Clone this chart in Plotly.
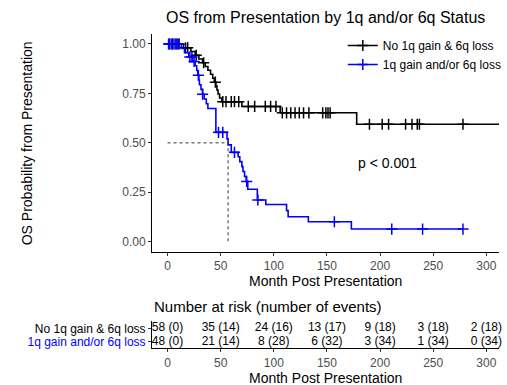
import numpy as np
import plotly.graph_objects as go

# ---------------- data ----------------
group_names = ["No 1q gain & 6q loss", "1q gain and/or 6q loss"]
group_colors = ["#000000", "#0000ff"]

# Kaplan-Meier step points (time, survival)
black_t = [0, 15, 22, 26, 29.5, 33, 35.5, 38, 40.5, 42.5, 44, 45.5, 46.5, 47.5, 49,
           51, 70, 106, 178, 312]
black_s = [1.0, 0.981, 0.962, 0.943, 0.924, 0.905, 0.886, 0.867, 0.847, 0.827, 0.807,
           0.787, 0.767, 0.747, 0.727, 0.708, 0.684, 0.652, 0.594, 0.594]
black_censor = [2, 5, 8, 10, 17, 19, 27, 34, 45, 52, 55, 60, 63, 67, 76, 82, 92, 97,
                102, 108, 112, 116, 120, 124, 128, 133, 146, 149, 151, 153, 190, 202,
                208, 224, 230, 235, 237, 278]

blue_t = [0, 13, 16, 20, 23.5, 26, 27.5, 28.5, 29.5, 30, 31.5, 33, 34.5, 36.5, 38,
          45.5, 56, 57, 60, 66.5, 68, 70, 71, 72.5, 74, 75.5, 84.5, 92.5, 112, 113.5,
          132.5, 173, 278]
blue_s = [1.0, 0.978, 0.956, 0.934, 0.912, 0.89, 0.866, 0.842, 0.818, 0.794, 0.77,
          0.746, 0.722, 0.698, 0.674, 0.553, 0.52, 0.49, 0.452, 0.43, 0.405, 0.38,
          0.355, 0.33, 0.305, 0.265, 0.211, 0.188, 0.157, 0.126, 0.101, 0.064, 0.064]
blue_censor = [1, 2, 4, 5, 7, 9, 11, 21, 23, 25, 29, 33, 48, 52, 63, 74.5, 85, 157,
               211, 240, 278]

p_text = "p < 0.001"

risk_times = [0, 50, 100, 150, 200, 250, 300]
black_risk = ["58 (0)", "35 (14)", "24 (16)", "13 (17)", "9 (18)", "3 (18)", "2 (18)"]
blue_risk = ["48 (0)", "21 (14)", "8 (28)", "6 (32)", "3 (34)", "1 (34)", "0 (34)"]

x_ticks = [0, 50, 100, 150, 200, 250, 300]
y_ticks = [0, 0.25, 0.5, 0.75, 1.0]
y_ticktext = ["0.00", "0.25", "0.50", "0.75", "1.00"]

title_text = "OS from Presentation by 1q and/or 6q Status"
x_title = "Month Post Presentation"
y_title = "OS Probability from Presentation"
table_title = "Number at risk (number of events)"

# ---------------- figure ----------------
W, H = 507, 385
FONT = "Liberation Sans, Arial, sans-serif"
L, R = 152, 4


def py(p):
    return (H - p) / H


def step_value(ts, ss, t):
    i = np.searchsorted(np.asarray(ts), t, side="right") - 1
    return ss[max(i, 0)]


fig = go.Figure()

curves = [(black_t, black_s, black_censor), (blue_t, blue_s, blue_censor)]
for (ts, ss, cs), name, col in zip(curves, group_names, group_colors):
    fig.add_trace(go.Scatter(x=ts, y=ss, mode="lines", line=dict(color=col, width=1.6, shape="hv"),
                             showlegend=False, hoverinfo="skip"))
    cy = [step_value(ts, ss, c) for c in cs]
    fig.add_trace(go.Scatter(x=cs, y=cy, mode="markers",
                             marker=dict(symbol="cross-thin", size=8, line=dict(color=col, width=1.5)),
                             showlegend=False, hoverinfo="skip"))
    fig.add_trace(go.Scatter(x=[None], y=[None], mode="lines+markers", name=name,
                             line=dict(color=col, width=1.6),
                             marker=dict(symbol="cross-thin", size=8, line=dict(color=col, width=1.5))))

# median survival line for the group that reaches 0.5
bt = np.asarray(blue_t)
bs = np.asarray(blue_s)
med = float(bt[np.argmax(bs <= 0.5)])
fig.add_trace(go.Scatter(x=[0, med, med], y=[0.5, 0.5, 0], mode="lines",
                         line=dict(color="#333333", width=1, dash="3px,3px"),
                         showlegend=False, hoverinfo="skip"))

# risk table
fig.add_trace(go.Scatter(x=risk_times, y=[2] * len(risk_times), text=black_risk, mode="text",
                         textfont=dict(size=12, color="#000000", family=FONT),
                         xaxis="x2", yaxis="y2", showlegend=False, hoverinfo="skip",
                         cliponaxis=False))
fig.add_trace(go.Scatter(x=risk_times, y=[1] * len(risk_times), text=blue_risk, mode="text",
                         textfont=dict(size=12, color="#000000", family=FONT),
                         xaxis="x2", yaxis="y2", showlegend=False, hoverinfo="skip",
                         cliponaxis=False))

xr = [-14.6, 311.9]
axis_common = dict(showgrid=False, zeroline=False, showline=True, linecolor="#000000",
                   linewidth=1, ticks="outside", ticklen=3, tickcolor="#333333",
                   tickfont=dict(size=12, color="#4d4d4d", family=FONT), automargin=False)

main_bottom, main_top = 251.6, 34.1
tab_bottom, tab_top = 348.3, 320.5

fig.update_layout(
    width=W, height=H, margin=dict(l=L, r=R, t=0, b=0),
    template="none", paper_bgcolor="white", plot_bgcolor="white",
    font=dict(family=FONT, color="#000000"),
    xaxis=dict(domain=[0, 1], range=xr, tickvals=x_ticks, anchor="y", **axis_common),
    yaxis=dict(domain=[py(main_bottom), py(main_top)], range=[-0.05, 1.05], tickvals=y_ticks,
               ticktext=y_ticktext, anchor="x", **axis_common),
    xaxis2=dict(domain=[0, 1], range=xr, tickvals=x_ticks, anchor="y2", **axis_common),
    yaxis2=dict(domain=[py(tab_bottom), py(tab_top)], range=[0.5, 2.6], tickvals=[2, 1],
                ticktext=[f"<span style='color:{group_colors[0]}'>{group_names[0]}</span>",
                          f"<span style='color:{group_colors[1]}'>{group_names[1]}</span>"],
                anchor="x2", **{**axis_common, "tickfont": dict(size=12, color="#000000", family=FONT)}),
    legend=dict(x=(345 - L) / (W - L - R), y=py(31), xanchor="left", yanchor="top",
                bgcolor="rgba(0,0,0,0)", font=dict(size=12, family=FONT, color="#000000"),
                tracegroupgap=0),
    showlegend=True,
)

ann = [
    dict(text=title_text, x=0.5, y=py(17), xref="paper", yref="paper",
         font=dict(size=16), showarrow=False, xanchor="center", yanchor="middle"),
    dict(text=x_title, x=0.5, y=py(281), xref="paper", yref="paper",
         font=dict(size=14), showarrow=False, xanchor="center", yanchor="middle"),
    dict(text=y_title, x=(25 - L) / (W - L - R), y=py((main_bottom + main_top) / 2),
         xref="paper", yref="paper", textangle=-90,
         font=dict(size=14), showarrow=False, xanchor="center", yanchor="middle"),
    dict(text=p_text, x=206.8, y=0.398, xref="x", yref="y",
         font=dict(size=14), showarrow=False, xanchor="center", yanchor="middle"),
    dict(text=table_title, x=0, y=py(306), xref="paper", yref="paper",
         font=dict(size=15), showarrow=False, xanchor="left", yanchor="middle"),
    dict(text=x_title, x=0.5, y=py(378), xref="paper", yref="paper",
         font=dict(size=14), showarrow=False, xanchor="center", yanchor="middle"),
]
fig.update_layout(annotations=ann)

fig.write_html("out.html")
